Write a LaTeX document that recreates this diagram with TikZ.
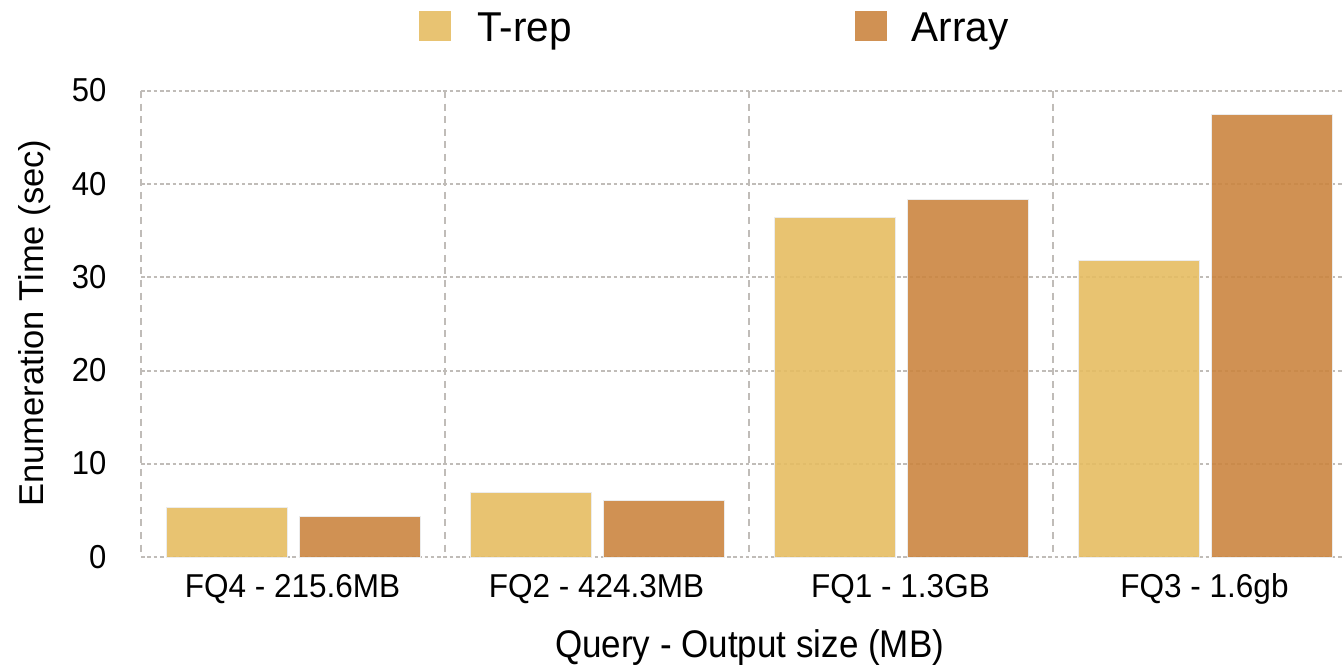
\documentclass[tikz,border=0pt]{standalone}
\usepackage{fontspec}
\setmainfont{Liberation Sans}
% bar colours are slightly translucent, so these are the base tones
\definecolor{trep}{RGB}{229,188,98}
\definecolor{arr}{RGB}{203,133,64}
\definecolor{trepkey}{RGB}{232,195,114}
\definecolor{arrkey}{RGB}{208,145,83}
\definecolor{gridc}{RGB}{192,188,184}
\begin{document}
\begin{tikzpicture}[x=1pt,y=-1pt,
  hgrid/.style={gridc, line width=1.9pt, dash pattern=on 3.6pt off 2.7pt},
  vgrid/.style={gridc, line width=2.6pt, dash pattern=on 7pt off 5.6pt},
  bar/.style={draw=white!85!gray, line width=0.7pt, fill opacity=0.9,
    inner sep=0pt, outer sep=0pt, anchor=south west, minimum width=121.5pt},
  swatch/.style={inner sep=0pt, minimum width=32pt, minimum height=30pt, anchor=north west},
  ticklbl/.style={font=\fontsize{31}{31}\selectfont, anchor=base east, inner sep=0pt, yscale=1.07},
  catlbl/.style={font=\fontsize{31.5}{31.5}\selectfont, anchor=base, inner sep=0pt, yscale=1.05},
  leglbl/.style={font=\fontsize{40.5}{40.5}\selectfont, anchor=base west, inner sep=0pt, yscale=1.03},
  axlbl/.style={font=\fontsize{35}{35}\selectfont, anchor=base, inner sep=0pt}]
\useasboundingbox (0,0) rectangle (1344,668);

% horizontal grid lines and y tick labels
\foreach \v in {0,10,20,30,40,50}{
  \pgfmathsetmacro\yy{557-\v*9.32}
  \draw[hgrid] (141,\yy) -- (1344,\yy);
  \node[ticklbl] (tick\v) at (106.5,\yy+11) {\v};
}
% vertical grid lines between query groups
\foreach \g in {0,1,2,3}{
  \draw[vgrid] (141+304*\g,91) -- (141+304*\g,557);
}

% bars: group index / T-rep value / Array value / label
\foreach \g/\a/\b/\lab in {0/5.33/4.32/{FQ4 - 215.6MB},
                          1/6.94/6.12/{FQ2 - 424.3MB},
                          2/36.48/38.41/{FQ1 - 1.3GB},
                          3/31.83/47.5/{FQ3 - 1.6gb}}{
  \pgfmathsetmacro\L{166+304*\g}
  \pgfmathsetmacro\ha{\a*9.32}
  \pgfmathsetmacro\hb{\b*9.32}
  \node[bar, fill=trep, minimum height=\ha pt] (trep\g) at (\L,557) {};
  \node[bar, fill=arr, minimum height=\hb pt] (arr\g) at (\L+133,557) {};
  \node[catlbl] (cat\g) at (\L+126.5,597) {\lab};
}

% legend
\node[swatch, fill=trepkey] (legT) at (419,11) {};
\node[leglbl] (legTtxt) at (477,41.7) {T-rep};
\node[swatch, fill=arrkey] (legA) at (854.5,11) {};
\node[leglbl] (legAtxt) at (911.7,41.7) {Array};

% axis titles
\node[axlbl, yscale=1.1] (xtitle) at (749.6,657) {Query - Output size (MB)};
\node[axlbl, font=\fontsize{34.5}{34.5}\selectfont, rotate=90] (ytitle) at (43,323) {Enumeration Time (sec)};
\end{tikzpicture}
\end{document}
